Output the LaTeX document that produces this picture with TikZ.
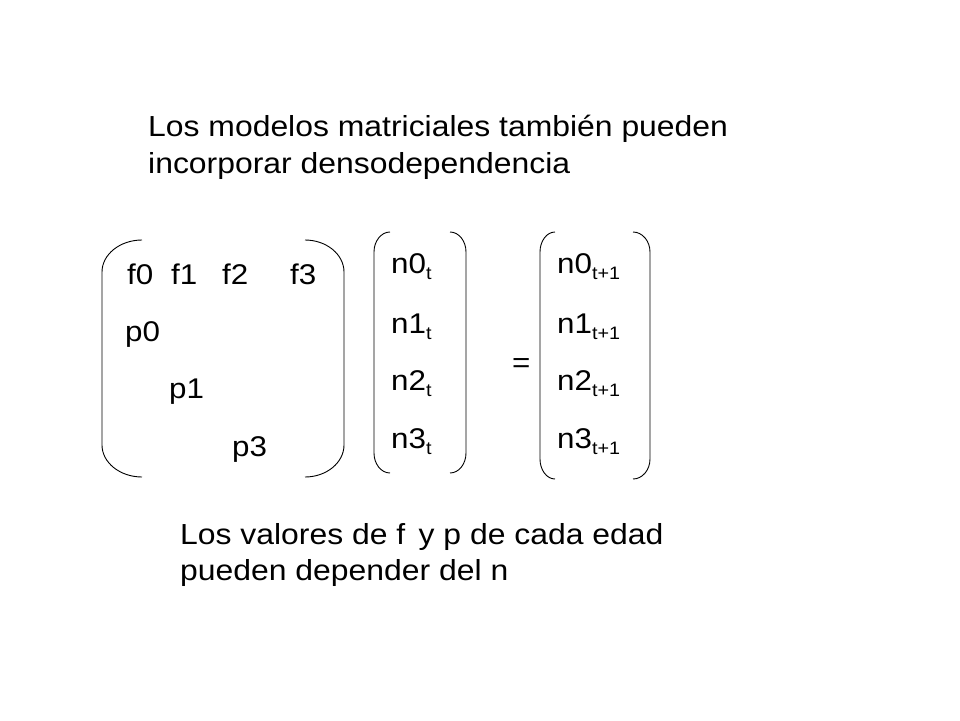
\documentclass[tikz,border=0pt]{standalone}
\usepackage{fontspec}
\setmainfont{Liberation Sans}
\usetikzlibrary{calc}

% one rounded side of a bracket: end x, outer x, top y, bottom y, corner height
\newcommand{\parenline}[5]{%
  \draw[brak] (#1,#3) .. controls ({#1+(#2-#1)*0.55},#3) and (#2,{#3+#5*0.45}) .. (#2,{#3+#5})
    -- (#2,{#4-#5}) .. controls (#2,{#4-#5*0.45}) and ({#1+(#2-#1)*0.55},#4) .. (#1,#4);}
\newcommand{\lowidx}[1]{\raisebox{-6.5pt}{\fontsize{18}{18}\selectfont #1}}
\newcommand{\widetxt}[1]{\scalebox{1.1}[1]{#1}}

\begin{document}
\begin{tikzpicture}[x=1pt,y=-1pt,
  brak/.style={line width=0.9pt},
  txt/.style={anchor=base west,inner sep=0pt,font=\fontsize{28.5}{34}\selectfont},
  big/.style={txt,font=\fontsize{29}{36}\selectfont}]
  \useasboundingbox (0,0) rectangle (960,720);

  \node[big] (title1) at (148,136.5) {\widetxt{Los modelos matriciales también pueden}};
  \node[big] (title2) at (148,173) {\widetxt{incorporar densodependencia}};

  % matrix
  \parenline{142}{102}{240}{477}{32}
  \parenline{305}{344}{240}{477}{32}
  \node[txt] (f0) at (127,284) {\widetxt{f0}};
  \node[txt] (f1) at (171,284) {\widetxt{f1}};
  \node[txt] (f2) at (222,284) {\widetxt{f2}};
  \node[txt] (f3) at (290,284) {\widetxt{f3}};
  \node[txt] (p0) at (125,341) {\widetxt{p0}};
  \node[txt] (p1) at (169,398) {\widetxt{p1}};
  \node[txt] (p3) at (232,456) {\widetxt{p3}};

  % vector at t
  \parenline{390}{374}{232}{473}{20}
  \parenline{450}{466}{232}{473}{20}
  \node[txt] (n0t) at (391,273) {\widetxt{n0\lowidx{t}}};
  \node[txt] (n1t) at (391,333) {\widetxt{n1\lowidx{t}}};
  \node[txt] (n2t) at (391,390) {\widetxt{n2\lowidx{t}}};
  \node[txt] (n3t) at (391,448) {\widetxt{n3\lowidx{t}}};

  \node[txt] (eq) at (512,372) {\widetxt{=}};

  % vector at t+1
  \parenline{555}{540}{232}{479}{20}
  \parenline{633}{650}{232}{479}{20}
  \node[txt] (n0s) at (557,273) {\widetxt{n0\lowidx{t+1}}};
  \node[txt] (n1s) at (557,333) {\widetxt{n1\lowidx{t+1}}};
  \node[txt] (n2s) at (557,390) {\widetxt{n2\lowidx{t+1}}};
  \node[txt] (n3s) at (557,448) {\widetxt{n3\lowidx{t+1}}};

  \node[big] (note1) at (180,544) {\widetxt{Los valores de f\hspace{4pt} y p de cada edad}};
  \node[big] (note2) at (180,580.5) {\widetxt{pueden depender del n}};
\end{tikzpicture}
\end{document}
